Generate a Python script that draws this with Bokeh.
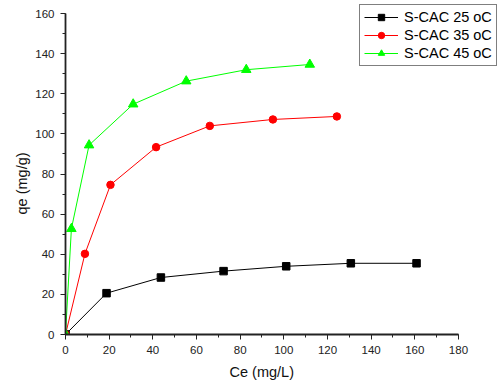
from bokeh.plotting import figure
from bokeh.models import Range1d, SingleIntervalTicker, Legend, LegendItem, Title
from bokeh.embed import file_html
from bokeh.resources import INLINE

ce_25 = [0, 18.8, 43.7, 72.4, 101.1, 130.7, 160.8]
qe_25 = [0, 20.6, 28.4, 31.6, 34.0, 35.5, 35.5]
ce_35 = [0, 8.9, 20.6, 41.5, 66.1, 95.0, 124.3]
qe_35 = [0, 40.2, 74.6, 93.4, 104.0, 107.2, 108.7]
ce_45 = [0, 2.7, 10.8, 31.0, 55.3, 82.8, 111.9]
qe_45 = [0, 52.7, 94.4, 114.8, 126.3, 132.0, 134.6]
labels = ["S-CAC 25 oC", "S-CAC 35 oC", "S-CAC 45 oC"]
x_title = "Ce (mg/L)"
y_title = "qe (mg/g)"

FONT = "Liberation Sans"

p = figure(width=499, height=384, output_backend="svg", toolbar_location=None,
           x_range=Range1d(0, 198.8), y_range=Range1d(0, 166.5),
           min_border_left=65, min_border_right=0, min_border_top=0, min_border_bottom=50)
p.outline_line_color = None
p.grid.visible = False
p.background_fill_color = "white"

l1 = p.line(ce_25, qe_25, line_color="black", line_width=1)
m1 = p.scatter(ce_25, qe_25, marker="square", size=7.5, fill_color="black", line_color="black")
l2 = p.line(ce_35, qe_35, line_color="#ff0000", line_width=1)
m2 = p.scatter(ce_35, qe_35, marker="circle", size=7.5, fill_color="#ff0000", line_color="#ff0000")
l3 = p.line(ce_45, qe_45, line_color="#00ff00", line_width=1)
m3 = p.scatter(ce_45, qe_45, marker="triangle", size=9.5, fill_color="#00ff00", line_color="#00ff00")

for ax in (p.xaxis[0], p.yaxis[0]):
    ax.axis_line_width = 1.8
    ax.axis_line_color = "#222222"
    ax.major_tick_line_color = "#222222"
    ax.minor_tick_line_color = "#222222"
    ax.major_tick_line_width = 1
    ax.minor_tick_line_width = 1
    ax.major_tick_out = 5
    ax.major_tick_in = 0
    ax.minor_tick_out = 3
    ax.minor_tick_in = 0
    ax.major_label_text_font = FONT
    ax.major_label_text_font_size = "11.5px"
    ax.major_label_text_color = "#222222"
    ax.major_label_standoff = 6

p.xaxis.ticker = SingleIntervalTicker(interval=20, num_minor_ticks=2)
p.yaxis.ticker = SingleIntervalTicker(interval=20, num_minor_ticks=2)
p.xaxis.bounds = (0, 180)
p.yaxis.bounds = (0, 160)

xt = Title(text=x_title, align="left", offset=164, text_font=FONT,
           text_font_size="14.5px", text_font_style="normal", text_color="#111111", standoff=10)
p.add_layout(xt, "below")
yt = Title(text=y_title, align="left", offset=120, text_font=FONT,
           text_font_size="14.5px", text_font_style="normal", text_color="#111111", standoff=6)
p.add_layout(yt, "left")

legend = Legend(items=[LegendItem(label=labels[0], renderers=[l1, m1]),
                       LegendItem(label=labels[1], renderers=[l2, m2]),
                       LegendItem(label=labels[2], renderers=[l3, m3])],
                location=(294, 268))
legend.border_line_color = "black"
legend.border_line_width = 1.2
legend.label_text_font = FONT
legend.label_text_font_size = "14.5px"
legend.label_text_color = "black"
legend.glyph_width = 34
legend.glyph_height = 16
legend.label_standoff = 6
legend.spacing = 2
legend.padding = 4
legend.margin = 0
legend.label_height = 16
p.add_layout(legend)

open("out.html", "w").write(file_html(p, INLINE))
